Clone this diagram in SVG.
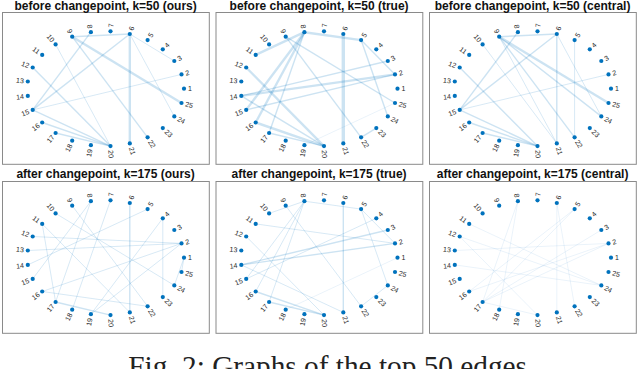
<svg xmlns="http://www.w3.org/2000/svg" width="640" height="369" viewBox="0 0 640 369">
<style>
.frame{fill:#fff;stroke:#8a8a8a;stroke-width:1}
.title{font-family:"Liberation Sans",Arial,sans-serif;font-size:12px;font-weight:bold;fill:#111;text-anchor:middle}
.cap{font-family:"Liberation Serif","Times New Roman",serif;font-size:29.3px;fill:#222}
.n circle{fill:#0072BD}
.n text{font-family:"Liberation Sans",Arial,sans-serif;font-size:7px;fill:#262626}
.n text.l{text-anchor:end}
.c line{stroke:#0072BD;stroke-linecap:butt}
.t{stroke-width:0.8;stroke-opacity:0.2}
.m{stroke-width:1.4;stroke-opacity:0.2}
.k{stroke-width:2.4;stroke-opacity:0.2}
.x{stroke-width:3.4;stroke-opacity:0.2}
.f{stroke-width:0.6;stroke-opacity:0.14}
</style>
<rect width="640" height="369" fill="#fff"/>
<g id="frames">
<rect class="frame" x="2.5" y="12.5" width="206.8" height="151.8"/>
<rect class="frame" x="216" y="12.5" width="206.8" height="151.8"/>
<rect class="frame" x="429.5" y="12.5" width="206.8" height="151.8"/>
<rect class="frame" x="2.5" y="181.5" width="206.8" height="151.8"/>
<rect class="frame" x="216" y="181.5" width="206.8" height="151.8"/>
<rect class="frame" x="429.5" y="181.5" width="206.8" height="151.8"/>
</g>
<g id="titles">
<text class="title" x="105.6" y="10">before changepoint, k=50 (ours)</text>
<text class="title" x="319.1" y="10">before changepoint, k=50 (true)</text>
<text class="title" x="532.6" y="10">before changepoint, k=50 (central)</text>
<text class="title" x="105.6" y="177.7">after changepoint, k=175 (ours)</text>
<text class="title" x="319.1" y="177.7">after changepoint, k=175 (true)</text>
<text class="title" x="532.6" y="177.7">after changepoint, k=175 (central)</text>
</g>
<g id="connectors" class="c">
<g id="edges-p1" transform="translate(105.6,88.7)">
<line class="m" x1="24.2" y1="-54.7" x2="-33.4" y2="-52.0"/>
<line class="t" x1="24.2" y1="-54.7" x2="68.7" y2="-27.7"/>
<line class="t" x1="24.2" y1="-54.7" x2="68.7" y2="27.7"/>
<line class="k" x1="24.2" y1="-54.7" x2="24.2" y2="54.7"/>
<line class="m" x1="24.2" y1="-54.7" x2="-72.9" y2="21.2"/>
<line class="m" x1="-14.7" y1="-56.5" x2="-72.9" y2="21.2"/>
<line class="k" x1="-33.4" y1="-52.0" x2="75.9" y2="14.3"/>
<line class="m" x1="-33.4" y1="-52.0" x2="42.0" y2="48.6"/>
<line class="t" x1="-50.0" y1="-44.3" x2="4.9" y2="57.4"/>
<line class="m" x1="-72.9" y1="-21.2" x2="4.9" y2="57.4"/>
<line class="t" x1="-72.9" y1="21.2" x2="75.9" y2="-14.3"/>
<line class="m" x1="-72.9" y1="21.2" x2="4.9" y2="57.4"/>
<line class="m" x1="-63.4" y1="33.8" x2="4.9" y2="57.4"/>
<line class="m" x1="-50.0" y1="44.3" x2="4.9" y2="57.4"/>
</g>
<g id="edges-p2" transform="translate(319.1,88.7)">
<line class="x" x1="24.2" y1="-54.7" x2="24.2" y2="54.7"/>
<line class="k" x1="-63.4" y1="-33.8" x2="-14.7" y2="-56.5"/>
<line class="k" x1="-14.7" y1="-56.5" x2="42.0" y2="-48.6"/>
<line class="m" x1="42.0" y1="-48.6" x2="75.9" y2="-14.3"/>
<line class="m" x1="42.0" y1="-48.6" x2="68.7" y2="27.7"/>
<line class="m" x1="68.7" y1="-27.7" x2="-77.8" y2="7.2"/>
<line class="k" x1="75.9" y1="-14.3" x2="-77.8" y2="7.2"/>
<line class="m" x1="75.9" y1="-14.3" x2="-72.9" y2="21.2"/>
<line class="k" x1="-14.7" y1="-56.5" x2="-72.9" y2="21.2"/>
<line class="k" x1="-14.7" y1="-56.5" x2="-63.4" y2="33.8"/>
<line class="m" x1="-14.7" y1="-56.5" x2="-50.0" y2="44.3"/>
<line class="k" x1="-72.9" y1="-21.2" x2="4.9" y2="57.4"/>
<line class="m" x1="-77.8" y1="7.2" x2="4.9" y2="57.4"/>
<line class="k" x1="-63.4" y1="33.8" x2="4.9" y2="57.4"/>
<line class="m" x1="-50.0" y1="44.3" x2="4.9" y2="57.4"/>
<line class="m" x1="-33.4" y1="-52.0" x2="42.0" y2="48.6"/>
<line class="m" x1="-33.4" y1="-52.0" x2="75.9" y2="14.3"/>
<line class="f" x1="75.9" y1="14.3" x2="-14.7" y2="56.5"/>
<line class="m" x1="42.0" y1="48.6" x2="57.2" y2="39.4"/>
</g>
<g id="edges-p3" transform="translate(532.6,88.7)">
<line class="m" x1="24.2" y1="-54.7" x2="-33.4" y2="-52.0"/>
<line class="m" x1="24.2" y1="-54.7" x2="24.2" y2="54.7"/>
<line class="m" x1="24.2" y1="-54.7" x2="-72.9" y2="21.2"/>
<line class="m" x1="-14.7" y1="-56.5" x2="-72.9" y2="21.2"/>
<line class="t" x1="24.2" y1="-54.7" x2="68.7" y2="27.7"/>
<line class="t" x1="42.0" y1="-48.6" x2="42.0" y2="48.6"/>
<line class="k" x1="-33.4" y1="-52.0" x2="75.9" y2="14.3"/>
<line class="m" x1="-33.4" y1="-52.0" x2="68.7" y2="27.7"/>
<line class="m" x1="-33.4" y1="-52.0" x2="42.0" y2="48.6"/>
<line class="t" x1="-33.4" y1="-52.0" x2="24.2" y2="54.7"/>
<line class="t" x1="-50.0" y1="-44.3" x2="24.2" y2="54.7"/>
<line class="m" x1="-72.9" y1="-21.2" x2="4.9" y2="57.4"/>
<line class="t" x1="-72.9" y1="21.2" x2="75.9" y2="-14.3"/>
<line class="m" x1="-72.9" y1="21.2" x2="4.9" y2="57.4"/>
<line class="m" x1="-63.4" y1="33.8" x2="4.9" y2="57.4"/>
<line class="m" x1="-50.0" y1="44.3" x2="4.9" y2="57.4"/>
</g>
<g id="edges-p4" transform="translate(105.6,257.7)">
<line class="t" x1="78.4" y1="0" x2="75.9" y2="14.3"/>
<line class="t" x1="78.4" y1="0" x2="68.7" y2="27.7"/>
<line class="t" x1="75.9" y1="-14.3" x2="-72.9" y2="-21.2"/>
<line class="t" x1="75.9" y1="-14.3" x2="-77.8" y2="-7.2"/>
<line class="t" x1="75.9" y1="-14.3" x2="-63.4" y2="33.8"/>
<line class="t" x1="75.9" y1="-14.3" x2="-14.7" y2="56.5"/>
<line class="t" x1="57.2" y1="-39.4" x2="57.2" y2="39.4"/>
<line class="t" x1="42.0" y1="-48.6" x2="-77.8" y2="7.2"/>
<line class="m" x1="24.2" y1="-54.7" x2="24.2" y2="54.7"/>
<line class="t" x1="4.9" y1="-57.4" x2="-33.4" y2="52.0"/>
<line class="t" x1="-14.7" y1="-56.5" x2="-50.0" y2="44.3"/>
<line class="t" x1="-14.7" y1="-56.5" x2="-72.9" y2="21.2"/>
<line class="t" x1="-50.0" y1="-44.3" x2="68.7" y2="27.7"/>
<line class="t" x1="-63.4" y1="-33.8" x2="-50.0" y2="44.3"/>
<line class="t" x1="-63.4" y1="-33.8" x2="24.2" y2="54.7"/>
<line class="t" x1="-63.4" y1="33.8" x2="42.0" y2="48.6"/>
<line class="m" x1="-50.0" y1="44.3" x2="4.9" y2="57.4"/>
<line class="t" x1="57.2" y1="-39.4" x2="-14.7" y2="56.5"/>
<line class="t" x1="-33.4" y1="-52.0" x2="42.0" y2="48.6"/>
</g>
<g id="edges-p5" transform="translate(319.1,257.7)">
<line class="m" x1="24.2" y1="-54.7" x2="24.2" y2="54.7"/>
<line class="t" x1="-50.0" y1="-44.3" x2="-14.7" y2="-56.5"/>
<line class="t" x1="-14.7" y1="-56.5" x2="42.0" y2="-48.6"/>
<line class="t" x1="42.0" y1="-48.6" x2="75.9" y2="-14.3"/>
<line class="t" x1="42.0" y1="-48.6" x2="68.7" y2="27.7"/>
<line class="t" x1="-63.4" y1="-33.8" x2="75.9" y2="-14.3"/>
<line class="m" x1="-77.8" y1="7.2" x2="68.7" y2="-27.7"/>
<line class="m" x1="-77.8" y1="7.2" x2="75.9" y2="-14.3"/>
<line class="t" x1="-72.9" y1="21.2" x2="57.2" y2="-39.4"/>
<line class="t" x1="-14.7" y1="-56.5" x2="-72.9" y2="21.2"/>
<line class="t" x1="-14.7" y1="-56.5" x2="-63.4" y2="33.8"/>
<line class="t" x1="-14.7" y1="-56.5" x2="-50.0" y2="44.3"/>
<line class="t" x1="-72.9" y1="-21.2" x2="4.9" y2="57.4"/>
<line class="t" x1="-77.8" y1="7.2" x2="24.2" y2="54.7"/>
<line class="m" x1="-63.4" y1="33.8" x2="4.9" y2="57.4"/>
<line class="m" x1="-50.0" y1="44.3" x2="4.9" y2="57.4"/>
<line class="t" x1="-33.4" y1="-52.0" x2="42.0" y2="48.6"/>
<line class="f" x1="78.4" y1="0" x2="-33.4" y2="52.0"/>
<line class="t" x1="68.7" y1="27.7" x2="42.0" y2="48.6"/>
</g>
<g id="edges-p6" transform="translate(532.6,257.7)">
<line class="f" x1="24.2" y1="-54.7" x2="24.2" y2="54.7"/>
<line class="f" x1="75.9" y1="-14.3" x2="-77.8" y2="-7.2"/>
<line class="f" x1="75.9" y1="-14.3" x2="-63.4" y2="33.8"/>
<line class="f" x1="75.9" y1="-14.3" x2="-50.0" y2="44.3"/>
<line class="f" x1="68.7" y1="27.7" x2="-77.8" y2="7.2"/>
<line class="f" x1="68.7" y1="27.7" x2="-63.4" y2="-33.8"/>
<line class="f" x1="42.0" y1="-48.6" x2="-63.4" y2="33.8"/>
<line class="f" x1="42.0" y1="-48.6" x2="-50.0" y2="44.3"/>
<line class="f" x1="-14.7" y1="-56.5" x2="-50.0" y2="44.3"/>
<line class="f" x1="-14.7" y1="-56.5" x2="-33.4" y2="52.0"/>
<line class="f" x1="-72.9" y1="-21.2" x2="4.9" y2="57.4"/>
<line class="f" x1="-50.0" y1="44.3" x2="4.9" y2="57.4"/>
<line class="f" x1="24.2" y1="-54.7" x2="42.0" y2="48.6"/>
<line class="f" x1="-72.9" y1="-21.2" x2="68.7" y2="27.7"/>
<line class="f" x1="68.7" y1="-27.7" x2="-50.0" y2="44.3"/>
</g>
</g>
<g id="nodes-p1" transform="translate(105.6,88.7)">
<g id="p1n1" class="n"><circle cx="78.4" cy="0" r="2.1"/><text transform="translate(78.4,0) rotate(0)" x="4" dy="2.4">1</text></g>
<g id="p1n2" class="n"><circle cx="75.9" cy="-14.3" r="2.1"/><text transform="translate(75.9,-14.3) rotate(-14.4)" x="4" dy="2.4">2</text></g>
<g id="p1n3" class="n"><circle cx="68.7" cy="-27.7" r="2.1"/><text transform="translate(68.7,-27.7) rotate(-28.8)" x="4" dy="2.4">3</text></g>
<g id="p1n4" class="n"><circle cx="57.2" cy="-39.4" r="2.1"/><text transform="translate(57.2,-39.4) rotate(-43.2)" x="4" dy="2.4">4</text></g>
<g id="p1n5" class="n"><circle cx="42.0" cy="-48.6" r="2.1"/><text transform="translate(42.0,-48.6) rotate(-57.6)" x="4" dy="2.4">5</text></g>
<g id="p1n6" class="n"><circle cx="24.2" cy="-54.7" r="2.1"/><text transform="translate(24.2,-54.7) rotate(-72)" x="4" dy="2.4">6</text></g>
<g id="p1n7" class="n"><circle cx="4.9" cy="-57.4" r="2.1"/><text transform="translate(4.9,-57.4) rotate(-86.4)" x="4" dy="2.4">7</text></g>
<g id="p1n8" class="n"><circle cx="-14.7" cy="-56.5" r="2.1"/><text class="l" transform="translate(-14.7,-56.5) rotate(79.2)" x="-4" dy="2.4">8</text></g>
<g id="p1n9" class="n"><circle cx="-33.4" cy="-52.0" r="2.1"/><text class="l" transform="translate(-33.4,-52.0) rotate(64.8)" x="-4" dy="2.4">9</text></g>
<g id="p1n10" class="n"><circle cx="-50.0" cy="-44.3" r="2.1"/><text class="l" transform="translate(-50.0,-44.3) rotate(50.4)" x="-4" dy="2.4">10</text></g>
<g id="p1n11" class="n"><circle cx="-63.4" cy="-33.8" r="2.1"/><text class="l" transform="translate(-63.4,-33.8) rotate(36)" x="-4" dy="2.4">11</text></g>
<g id="p1n12" class="n"><circle cx="-72.9" cy="-21.2" r="2.1"/><text class="l" transform="translate(-72.9,-21.2) rotate(21.6)" x="-4" dy="2.4">12</text></g>
<g id="p1n13" class="n"><circle cx="-77.8" cy="-7.2" r="2.1"/><text class="l" transform="translate(-77.8,-7.2) rotate(7.2)" x="-4" dy="2.4">13</text></g>
<g id="p1n14" class="n"><circle cx="-77.8" cy="7.2" r="2.1"/><text class="l" transform="translate(-77.8,7.2) rotate(-7.2)" x="-4" dy="2.4">14</text></g>
<g id="p1n15" class="n"><circle cx="-72.9" cy="21.2" r="2.1"/><text class="l" transform="translate(-72.9,21.2) rotate(-21.6)" x="-4" dy="2.4">15</text></g>
<g id="p1n16" class="n"><circle cx="-63.4" cy="33.8" r="2.1"/><text class="l" transform="translate(-63.4,33.8) rotate(-36)" x="-4" dy="2.4">16</text></g>
<g id="p1n17" class="n"><circle cx="-50.0" cy="44.3" r="2.1"/><text class="l" transform="translate(-50.0,44.3) rotate(-50.4)" x="-4" dy="2.4">17</text></g>
<g id="p1n18" class="n"><circle cx="-33.4" cy="52.0" r="2.1"/><text class="l" transform="translate(-33.4,52.0) rotate(-64.8)" x="-4" dy="2.4">18</text></g>
<g id="p1n19" class="n"><circle cx="-14.7" cy="56.5" r="2.1"/><text class="l" transform="translate(-14.7,56.5) rotate(-79.2)" x="-4" dy="2.4">19</text></g>
<g id="p1n20" class="n"><circle cx="4.9" cy="57.4" r="2.1"/><text transform="translate(4.9,57.4) rotate(86.4)" x="4" dy="2.4">20</text></g>
<g id="p1n21" class="n"><circle cx="24.2" cy="54.7" r="2.1"/><text transform="translate(24.2,54.7) rotate(72)" x="4" dy="2.4">21</text></g>
<g id="p1n22" class="n"><circle cx="42.0" cy="48.6" r="2.1"/><text transform="translate(42.0,48.6) rotate(57.6)" x="4" dy="2.4">22</text></g>
<g id="p1n23" class="n"><circle cx="57.2" cy="39.4" r="2.1"/><text transform="translate(57.2,39.4) rotate(43.2)" x="4" dy="2.4">23</text></g>
<g id="p1n24" class="n"><circle cx="68.7" cy="27.7" r="2.1"/><text transform="translate(68.7,27.7) rotate(28.8)" x="4" dy="2.4">24</text></g>
<g id="p1n25" class="n"><circle cx="75.9" cy="14.3" r="2.1"/><text transform="translate(75.9,14.3) rotate(14.4)" x="4" dy="2.4">25</text></g>
</g>
<g id="nodes-p2" transform="translate(319.1,88.7)">
<g id="p2n1" class="n"><circle cx="78.4" cy="0" r="2.1"/><text transform="translate(78.4,0) rotate(0)" x="4" dy="2.4">1</text></g>
<g id="p2n2" class="n"><circle cx="75.9" cy="-14.3" r="2.1"/><text transform="translate(75.9,-14.3) rotate(-14.4)" x="4" dy="2.4">2</text></g>
<g id="p2n3" class="n"><circle cx="68.7" cy="-27.7" r="2.1"/><text transform="translate(68.7,-27.7) rotate(-28.8)" x="4" dy="2.4">3</text></g>
<g id="p2n4" class="n"><circle cx="57.2" cy="-39.4" r="2.1"/><text transform="translate(57.2,-39.4) rotate(-43.2)" x="4" dy="2.4">4</text></g>
<g id="p2n5" class="n"><circle cx="42.0" cy="-48.6" r="2.1"/><text transform="translate(42.0,-48.6) rotate(-57.6)" x="4" dy="2.4">5</text></g>
<g id="p2n6" class="n"><circle cx="24.2" cy="-54.7" r="2.1"/><text transform="translate(24.2,-54.7) rotate(-72)" x="4" dy="2.4">6</text></g>
<g id="p2n7" class="n"><circle cx="4.9" cy="-57.4" r="2.1"/><text transform="translate(4.9,-57.4) rotate(-86.4)" x="4" dy="2.4">7</text></g>
<g id="p2n8" class="n"><circle cx="-14.7" cy="-56.5" r="2.1"/><text class="l" transform="translate(-14.7,-56.5) rotate(79.2)" x="-4" dy="2.4">8</text></g>
<g id="p2n9" class="n"><circle cx="-33.4" cy="-52.0" r="2.1"/><text class="l" transform="translate(-33.4,-52.0) rotate(64.8)" x="-4" dy="2.4">9</text></g>
<g id="p2n10" class="n"><circle cx="-50.0" cy="-44.3" r="2.1"/><text class="l" transform="translate(-50.0,-44.3) rotate(50.4)" x="-4" dy="2.4">10</text></g>
<g id="p2n11" class="n"><circle cx="-63.4" cy="-33.8" r="2.1"/><text class="l" transform="translate(-63.4,-33.8) rotate(36)" x="-4" dy="2.4">11</text></g>
<g id="p2n12" class="n"><circle cx="-72.9" cy="-21.2" r="2.1"/><text class="l" transform="translate(-72.9,-21.2) rotate(21.6)" x="-4" dy="2.4">12</text></g>
<g id="p2n13" class="n"><circle cx="-77.8" cy="-7.2" r="2.1"/><text class="l" transform="translate(-77.8,-7.2) rotate(7.2)" x="-4" dy="2.4">13</text></g>
<g id="p2n14" class="n"><circle cx="-77.8" cy="7.2" r="2.1"/><text class="l" transform="translate(-77.8,7.2) rotate(-7.2)" x="-4" dy="2.4">14</text></g>
<g id="p2n15" class="n"><circle cx="-72.9" cy="21.2" r="2.1"/><text class="l" transform="translate(-72.9,21.2) rotate(-21.6)" x="-4" dy="2.4">15</text></g>
<g id="p2n16" class="n"><circle cx="-63.4" cy="33.8" r="2.1"/><text class="l" transform="translate(-63.4,33.8) rotate(-36)" x="-4" dy="2.4">16</text></g>
<g id="p2n17" class="n"><circle cx="-50.0" cy="44.3" r="2.1"/><text class="l" transform="translate(-50.0,44.3) rotate(-50.4)" x="-4" dy="2.4">17</text></g>
<g id="p2n18" class="n"><circle cx="-33.4" cy="52.0" r="2.1"/><text class="l" transform="translate(-33.4,52.0) rotate(-64.8)" x="-4" dy="2.4">18</text></g>
<g id="p2n19" class="n"><circle cx="-14.7" cy="56.5" r="2.1"/><text class="l" transform="translate(-14.7,56.5) rotate(-79.2)" x="-4" dy="2.4">19</text></g>
<g id="p2n20" class="n"><circle cx="4.9" cy="57.4" r="2.1"/><text transform="translate(4.9,57.4) rotate(86.4)" x="4" dy="2.4">20</text></g>
<g id="p2n21" class="n"><circle cx="24.2" cy="54.7" r="2.1"/><text transform="translate(24.2,54.7) rotate(72)" x="4" dy="2.4">21</text></g>
<g id="p2n22" class="n"><circle cx="42.0" cy="48.6" r="2.1"/><text transform="translate(42.0,48.6) rotate(57.6)" x="4" dy="2.4">22</text></g>
<g id="p2n23" class="n"><circle cx="57.2" cy="39.4" r="2.1"/><text transform="translate(57.2,39.4) rotate(43.2)" x="4" dy="2.4">23</text></g>
<g id="p2n24" class="n"><circle cx="68.7" cy="27.7" r="2.1"/><text transform="translate(68.7,27.7) rotate(28.8)" x="4" dy="2.4">24</text></g>
<g id="p2n25" class="n"><circle cx="75.9" cy="14.3" r="2.1"/><text transform="translate(75.9,14.3) rotate(14.4)" x="4" dy="2.4">25</text></g>
</g>
<g id="nodes-p3" transform="translate(532.6,88.7)">
<g id="p3n1" class="n"><circle cx="78.4" cy="0" r="2.1"/><text transform="translate(78.4,0) rotate(0)" x="4" dy="2.4">1</text></g>
<g id="p3n2" class="n"><circle cx="75.9" cy="-14.3" r="2.1"/><text transform="translate(75.9,-14.3) rotate(-14.4)" x="4" dy="2.4">2</text></g>
<g id="p3n3" class="n"><circle cx="68.7" cy="-27.7" r="2.1"/><text transform="translate(68.7,-27.7) rotate(-28.8)" x="4" dy="2.4">3</text></g>
<g id="p3n4" class="n"><circle cx="57.2" cy="-39.4" r="2.1"/><text transform="translate(57.2,-39.4) rotate(-43.2)" x="4" dy="2.4">4</text></g>
<g id="p3n5" class="n"><circle cx="42.0" cy="-48.6" r="2.1"/><text transform="translate(42.0,-48.6) rotate(-57.6)" x="4" dy="2.4">5</text></g>
<g id="p3n6" class="n"><circle cx="24.2" cy="-54.7" r="2.1"/><text transform="translate(24.2,-54.7) rotate(-72)" x="4" dy="2.4">6</text></g>
<g id="p3n7" class="n"><circle cx="4.9" cy="-57.4" r="2.1"/><text transform="translate(4.9,-57.4) rotate(-86.4)" x="4" dy="2.4">7</text></g>
<g id="p3n8" class="n"><circle cx="-14.7" cy="-56.5" r="2.1"/><text class="l" transform="translate(-14.7,-56.5) rotate(79.2)" x="-4" dy="2.4">8</text></g>
<g id="p3n9" class="n"><circle cx="-33.4" cy="-52.0" r="2.1"/><text class="l" transform="translate(-33.4,-52.0) rotate(64.8)" x="-4" dy="2.4">9</text></g>
<g id="p3n10" class="n"><circle cx="-50.0" cy="-44.3" r="2.1"/><text class="l" transform="translate(-50.0,-44.3) rotate(50.4)" x="-4" dy="2.4">10</text></g>
<g id="p3n11" class="n"><circle cx="-63.4" cy="-33.8" r="2.1"/><text class="l" transform="translate(-63.4,-33.8) rotate(36)" x="-4" dy="2.4">11</text></g>
<g id="p3n12" class="n"><circle cx="-72.9" cy="-21.2" r="2.1"/><text class="l" transform="translate(-72.9,-21.2) rotate(21.6)" x="-4" dy="2.4">12</text></g>
<g id="p3n13" class="n"><circle cx="-77.8" cy="-7.2" r="2.1"/><text class="l" transform="translate(-77.8,-7.2) rotate(7.2)" x="-4" dy="2.4">13</text></g>
<g id="p3n14" class="n"><circle cx="-77.8" cy="7.2" r="2.1"/><text class="l" transform="translate(-77.8,7.2) rotate(-7.2)" x="-4" dy="2.4">14</text></g>
<g id="p3n15" class="n"><circle cx="-72.9" cy="21.2" r="2.1"/><text class="l" transform="translate(-72.9,21.2) rotate(-21.6)" x="-4" dy="2.4">15</text></g>
<g id="p3n16" class="n"><circle cx="-63.4" cy="33.8" r="2.1"/><text class="l" transform="translate(-63.4,33.8) rotate(-36)" x="-4" dy="2.4">16</text></g>
<g id="p3n17" class="n"><circle cx="-50.0" cy="44.3" r="2.1"/><text class="l" transform="translate(-50.0,44.3) rotate(-50.4)" x="-4" dy="2.4">17</text></g>
<g id="p3n18" class="n"><circle cx="-33.4" cy="52.0" r="2.1"/><text class="l" transform="translate(-33.4,52.0) rotate(-64.8)" x="-4" dy="2.4">18</text></g>
<g id="p3n19" class="n"><circle cx="-14.7" cy="56.5" r="2.1"/><text class="l" transform="translate(-14.7,56.5) rotate(-79.2)" x="-4" dy="2.4">19</text></g>
<g id="p3n20" class="n"><circle cx="4.9" cy="57.4" r="2.1"/><text transform="translate(4.9,57.4) rotate(86.4)" x="4" dy="2.4">20</text></g>
<g id="p3n21" class="n"><circle cx="24.2" cy="54.7" r="2.1"/><text transform="translate(24.2,54.7) rotate(72)" x="4" dy="2.4">21</text></g>
<g id="p3n22" class="n"><circle cx="42.0" cy="48.6" r="2.1"/><text transform="translate(42.0,48.6) rotate(57.6)" x="4" dy="2.4">22</text></g>
<g id="p3n23" class="n"><circle cx="57.2" cy="39.4" r="2.1"/><text transform="translate(57.2,39.4) rotate(43.2)" x="4" dy="2.4">23</text></g>
<g id="p3n24" class="n"><circle cx="68.7" cy="27.7" r="2.1"/><text transform="translate(68.7,27.7) rotate(28.8)" x="4" dy="2.4">24</text></g>
<g id="p3n25" class="n"><circle cx="75.9" cy="14.3" r="2.1"/><text transform="translate(75.9,14.3) rotate(14.4)" x="4" dy="2.4">25</text></g>
</g>
<g id="nodes-p4" transform="translate(105.6,257.7)">
<g id="p4n1" class="n"><circle cx="78.4" cy="0" r="2.1"/><text transform="translate(78.4,0) rotate(0)" x="4" dy="2.4">1</text></g>
<g id="p4n2" class="n"><circle cx="75.9" cy="-14.3" r="2.1"/><text transform="translate(75.9,-14.3) rotate(-14.4)" x="4" dy="2.4">2</text></g>
<g id="p4n3" class="n"><circle cx="68.7" cy="-27.7" r="2.1"/><text transform="translate(68.7,-27.7) rotate(-28.8)" x="4" dy="2.4">3</text></g>
<g id="p4n4" class="n"><circle cx="57.2" cy="-39.4" r="2.1"/><text transform="translate(57.2,-39.4) rotate(-43.2)" x="4" dy="2.4">4</text></g>
<g id="p4n5" class="n"><circle cx="42.0" cy="-48.6" r="2.1"/><text transform="translate(42.0,-48.6) rotate(-57.6)" x="4" dy="2.4">5</text></g>
<g id="p4n6" class="n"><circle cx="24.2" cy="-54.7" r="2.1"/><text transform="translate(24.2,-54.7) rotate(-72)" x="4" dy="2.4">6</text></g>
<g id="p4n7" class="n"><circle cx="4.9" cy="-57.4" r="2.1"/><text transform="translate(4.9,-57.4) rotate(-86.4)" x="4" dy="2.4">7</text></g>
<g id="p4n8" class="n"><circle cx="-14.7" cy="-56.5" r="2.1"/><text class="l" transform="translate(-14.7,-56.5) rotate(79.2)" x="-4" dy="2.4">8</text></g>
<g id="p4n9" class="n"><circle cx="-33.4" cy="-52.0" r="2.1"/><text class="l" transform="translate(-33.4,-52.0) rotate(64.8)" x="-4" dy="2.4">9</text></g>
<g id="p4n10" class="n"><circle cx="-50.0" cy="-44.3" r="2.1"/><text class="l" transform="translate(-50.0,-44.3) rotate(50.4)" x="-4" dy="2.4">10</text></g>
<g id="p4n11" class="n"><circle cx="-63.4" cy="-33.8" r="2.1"/><text class="l" transform="translate(-63.4,-33.8) rotate(36)" x="-4" dy="2.4">11</text></g>
<g id="p4n12" class="n"><circle cx="-72.9" cy="-21.2" r="2.1"/><text class="l" transform="translate(-72.9,-21.2) rotate(21.6)" x="-4" dy="2.4">12</text></g>
<g id="p4n13" class="n"><circle cx="-77.8" cy="-7.2" r="2.1"/><text class="l" transform="translate(-77.8,-7.2) rotate(7.2)" x="-4" dy="2.4">13</text></g>
<g id="p4n14" class="n"><circle cx="-77.8" cy="7.2" r="2.1"/><text class="l" transform="translate(-77.8,7.2) rotate(-7.2)" x="-4" dy="2.4">14</text></g>
<g id="p4n15" class="n"><circle cx="-72.9" cy="21.2" r="2.1"/><text class="l" transform="translate(-72.9,21.2) rotate(-21.6)" x="-4" dy="2.4">15</text></g>
<g id="p4n16" class="n"><circle cx="-63.4" cy="33.8" r="2.1"/><text class="l" transform="translate(-63.4,33.8) rotate(-36)" x="-4" dy="2.4">16</text></g>
<g id="p4n17" class="n"><circle cx="-50.0" cy="44.3" r="2.1"/><text class="l" transform="translate(-50.0,44.3) rotate(-50.4)" x="-4" dy="2.4">17</text></g>
<g id="p4n18" class="n"><circle cx="-33.4" cy="52.0" r="2.1"/><text class="l" transform="translate(-33.4,52.0) rotate(-64.8)" x="-4" dy="2.4">18</text></g>
<g id="p4n19" class="n"><circle cx="-14.7" cy="56.5" r="2.1"/><text class="l" transform="translate(-14.7,56.5) rotate(-79.2)" x="-4" dy="2.4">19</text></g>
<g id="p4n20" class="n"><circle cx="4.9" cy="57.4" r="2.1"/><text transform="translate(4.9,57.4) rotate(86.4)" x="4" dy="2.4">20</text></g>
<g id="p4n21" class="n"><circle cx="24.2" cy="54.7" r="2.1"/><text transform="translate(24.2,54.7) rotate(72)" x="4" dy="2.4">21</text></g>
<g id="p4n22" class="n"><circle cx="42.0" cy="48.6" r="2.1"/><text transform="translate(42.0,48.6) rotate(57.6)" x="4" dy="2.4">22</text></g>
<g id="p4n23" class="n"><circle cx="57.2" cy="39.4" r="2.1"/><text transform="translate(57.2,39.4) rotate(43.2)" x="4" dy="2.4">23</text></g>
<g id="p4n24" class="n"><circle cx="68.7" cy="27.7" r="2.1"/><text transform="translate(68.7,27.7) rotate(28.8)" x="4" dy="2.4">24</text></g>
<g id="p4n25" class="n"><circle cx="75.9" cy="14.3" r="2.1"/><text transform="translate(75.9,14.3) rotate(14.4)" x="4" dy="2.4">25</text></g>
</g>
<g id="nodes-p5" transform="translate(319.1,257.7)">
<g id="p5n1" class="n"><circle cx="78.4" cy="0" r="2.1"/><text transform="translate(78.4,0) rotate(0)" x="4" dy="2.4">1</text></g>
<g id="p5n2" class="n"><circle cx="75.9" cy="-14.3" r="2.1"/><text transform="translate(75.9,-14.3) rotate(-14.4)" x="4" dy="2.4">2</text></g>
<g id="p5n3" class="n"><circle cx="68.7" cy="-27.7" r="2.1"/><text transform="translate(68.7,-27.7) rotate(-28.8)" x="4" dy="2.4">3</text></g>
<g id="p5n4" class="n"><circle cx="57.2" cy="-39.4" r="2.1"/><text transform="translate(57.2,-39.4) rotate(-43.2)" x="4" dy="2.4">4</text></g>
<g id="p5n5" class="n"><circle cx="42.0" cy="-48.6" r="2.1"/><text transform="translate(42.0,-48.6) rotate(-57.6)" x="4" dy="2.4">5</text></g>
<g id="p5n6" class="n"><circle cx="24.2" cy="-54.7" r="2.1"/><text transform="translate(24.2,-54.7) rotate(-72)" x="4" dy="2.4">6</text></g>
<g id="p5n7" class="n"><circle cx="4.9" cy="-57.4" r="2.1"/><text transform="translate(4.9,-57.4) rotate(-86.4)" x="4" dy="2.4">7</text></g>
<g id="p5n8" class="n"><circle cx="-14.7" cy="-56.5" r="2.1"/><text class="l" transform="translate(-14.7,-56.5) rotate(79.2)" x="-4" dy="2.4">8</text></g>
<g id="p5n9" class="n"><circle cx="-33.4" cy="-52.0" r="2.1"/><text class="l" transform="translate(-33.4,-52.0) rotate(64.8)" x="-4" dy="2.4">9</text></g>
<g id="p5n10" class="n"><circle cx="-50.0" cy="-44.3" r="2.1"/><text class="l" transform="translate(-50.0,-44.3) rotate(50.4)" x="-4" dy="2.4">10</text></g>
<g id="p5n11" class="n"><circle cx="-63.4" cy="-33.8" r="2.1"/><text class="l" transform="translate(-63.4,-33.8) rotate(36)" x="-4" dy="2.4">11</text></g>
<g id="p5n12" class="n"><circle cx="-72.9" cy="-21.2" r="2.1"/><text class="l" transform="translate(-72.9,-21.2) rotate(21.6)" x="-4" dy="2.4">12</text></g>
<g id="p5n13" class="n"><circle cx="-77.8" cy="-7.2" r="2.1"/><text class="l" transform="translate(-77.8,-7.2) rotate(7.2)" x="-4" dy="2.4">13</text></g>
<g id="p5n14" class="n"><circle cx="-77.8" cy="7.2" r="2.1"/><text class="l" transform="translate(-77.8,7.2) rotate(-7.2)" x="-4" dy="2.4">14</text></g>
<g id="p5n15" class="n"><circle cx="-72.9" cy="21.2" r="2.1"/><text class="l" transform="translate(-72.9,21.2) rotate(-21.6)" x="-4" dy="2.4">15</text></g>
<g id="p5n16" class="n"><circle cx="-63.4" cy="33.8" r="2.1"/><text class="l" transform="translate(-63.4,33.8) rotate(-36)" x="-4" dy="2.4">16</text></g>
<g id="p5n17" class="n"><circle cx="-50.0" cy="44.3" r="2.1"/><text class="l" transform="translate(-50.0,44.3) rotate(-50.4)" x="-4" dy="2.4">17</text></g>
<g id="p5n18" class="n"><circle cx="-33.4" cy="52.0" r="2.1"/><text class="l" transform="translate(-33.4,52.0) rotate(-64.8)" x="-4" dy="2.4">18</text></g>
<g id="p5n19" class="n"><circle cx="-14.7" cy="56.5" r="2.1"/><text class="l" transform="translate(-14.7,56.5) rotate(-79.2)" x="-4" dy="2.4">19</text></g>
<g id="p5n20" class="n"><circle cx="4.9" cy="57.4" r="2.1"/><text transform="translate(4.9,57.4) rotate(86.4)" x="4" dy="2.4">20</text></g>
<g id="p5n21" class="n"><circle cx="24.2" cy="54.7" r="2.1"/><text transform="translate(24.2,54.7) rotate(72)" x="4" dy="2.4">21</text></g>
<g id="p5n22" class="n"><circle cx="42.0" cy="48.6" r="2.1"/><text transform="translate(42.0,48.6) rotate(57.6)" x="4" dy="2.4">22</text></g>
<g id="p5n23" class="n"><circle cx="57.2" cy="39.4" r="2.1"/><text transform="translate(57.2,39.4) rotate(43.2)" x="4" dy="2.4">23</text></g>
<g id="p5n24" class="n"><circle cx="68.7" cy="27.7" r="2.1"/><text transform="translate(68.7,27.7) rotate(28.8)" x="4" dy="2.4">24</text></g>
<g id="p5n25" class="n"><circle cx="75.9" cy="14.3" r="2.1"/><text transform="translate(75.9,14.3) rotate(14.4)" x="4" dy="2.4">25</text></g>
</g>
<g id="nodes-p6" transform="translate(532.6,257.7)">
<g id="p6n1" class="n"><circle cx="78.4" cy="0" r="2.1"/><text transform="translate(78.4,0) rotate(0)" x="4" dy="2.4">1</text></g>
<g id="p6n2" class="n"><circle cx="75.9" cy="-14.3" r="2.1"/><text transform="translate(75.9,-14.3) rotate(-14.4)" x="4" dy="2.4">2</text></g>
<g id="p6n3" class="n"><circle cx="68.7" cy="-27.7" r="2.1"/><text transform="translate(68.7,-27.7) rotate(-28.8)" x="4" dy="2.4">3</text></g>
<g id="p6n4" class="n"><circle cx="57.2" cy="-39.4" r="2.1"/><text transform="translate(57.2,-39.4) rotate(-43.2)" x="4" dy="2.4">4</text></g>
<g id="p6n5" class="n"><circle cx="42.0" cy="-48.6" r="2.1"/><text transform="translate(42.0,-48.6) rotate(-57.6)" x="4" dy="2.4">5</text></g>
<g id="p6n6" class="n"><circle cx="24.2" cy="-54.7" r="2.1"/><text transform="translate(24.2,-54.7) rotate(-72)" x="4" dy="2.4">6</text></g>
<g id="p6n7" class="n"><circle cx="4.9" cy="-57.4" r="2.1"/><text transform="translate(4.9,-57.4) rotate(-86.4)" x="4" dy="2.4">7</text></g>
<g id="p6n8" class="n"><circle cx="-14.7" cy="-56.5" r="2.1"/><text class="l" transform="translate(-14.7,-56.5) rotate(79.2)" x="-4" dy="2.4">8</text></g>
<g id="p6n9" class="n"><circle cx="-33.4" cy="-52.0" r="2.1"/><text class="l" transform="translate(-33.4,-52.0) rotate(64.8)" x="-4" dy="2.4">9</text></g>
<g id="p6n10" class="n"><circle cx="-50.0" cy="-44.3" r="2.1"/><text class="l" transform="translate(-50.0,-44.3) rotate(50.4)" x="-4" dy="2.4">10</text></g>
<g id="p6n11" class="n"><circle cx="-63.4" cy="-33.8" r="2.1"/><text class="l" transform="translate(-63.4,-33.8) rotate(36)" x="-4" dy="2.4">11</text></g>
<g id="p6n12" class="n"><circle cx="-72.9" cy="-21.2" r="2.1"/><text class="l" transform="translate(-72.9,-21.2) rotate(21.6)" x="-4" dy="2.4">12</text></g>
<g id="p6n13" class="n"><circle cx="-77.8" cy="-7.2" r="2.1"/><text class="l" transform="translate(-77.8,-7.2) rotate(7.2)" x="-4" dy="2.4">13</text></g>
<g id="p6n14" class="n"><circle cx="-77.8" cy="7.2" r="2.1"/><text class="l" transform="translate(-77.8,7.2) rotate(-7.2)" x="-4" dy="2.4">14</text></g>
<g id="p6n15" class="n"><circle cx="-72.9" cy="21.2" r="2.1"/><text class="l" transform="translate(-72.9,21.2) rotate(-21.6)" x="-4" dy="2.4">15</text></g>
<g id="p6n16" class="n"><circle cx="-63.4" cy="33.8" r="2.1"/><text class="l" transform="translate(-63.4,33.8) rotate(-36)" x="-4" dy="2.4">16</text></g>
<g id="p6n17" class="n"><circle cx="-50.0" cy="44.3" r="2.1"/><text class="l" transform="translate(-50.0,44.3) rotate(-50.4)" x="-4" dy="2.4">17</text></g>
<g id="p6n18" class="n"><circle cx="-33.4" cy="52.0" r="2.1"/><text class="l" transform="translate(-33.4,52.0) rotate(-64.8)" x="-4" dy="2.4">18</text></g>
<g id="p6n19" class="n"><circle cx="-14.7" cy="56.5" r="2.1"/><text class="l" transform="translate(-14.7,56.5) rotate(-79.2)" x="-4" dy="2.4">19</text></g>
<g id="p6n20" class="n"><circle cx="4.9" cy="57.4" r="2.1"/><text transform="translate(4.9,57.4) rotate(86.4)" x="4" dy="2.4">20</text></g>
<g id="p6n21" class="n"><circle cx="24.2" cy="54.7" r="2.1"/><text transform="translate(24.2,54.7) rotate(72)" x="4" dy="2.4">21</text></g>
<g id="p6n22" class="n"><circle cx="42.0" cy="48.6" r="2.1"/><text transform="translate(42.0,48.6) rotate(57.6)" x="4" dy="2.4">22</text></g>
<g id="p6n23" class="n"><circle cx="57.2" cy="39.4" r="2.1"/><text transform="translate(57.2,39.4) rotate(43.2)" x="4" dy="2.4">23</text></g>
<g id="p6n24" class="n"><circle cx="68.7" cy="27.7" r="2.1"/><text transform="translate(68.7,27.7) rotate(28.8)" x="4" dy="2.4">24</text></g>
<g id="p6n25" class="n"><circle cx="75.9" cy="14.3" r="2.1"/><text transform="translate(75.9,14.3) rotate(14.4)" x="4" dy="2.4">25</text></g>
</g>
<text id="caption" class="cap" x="128.3" y="376">Fig. 2: Graphs of the top 50 edges.</text>
</svg>
